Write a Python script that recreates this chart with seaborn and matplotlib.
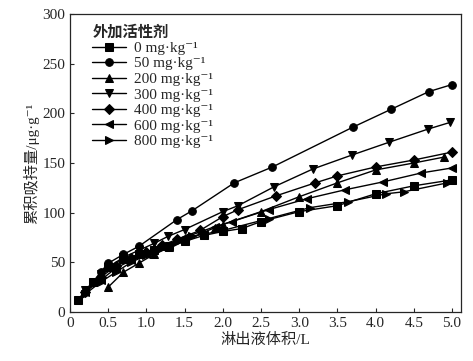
import numpy as np
import pandas as pd
import matplotlib
matplotlib.use('Agg')
import matplotlib.pyplot as plt
import seaborn as sns

sns.set_style('ticks')
plt.rcParams['font.family'] = ['Liberation Serif', 'Noto Sans CJK SC', 'DejaVu Serif']
plt.rcParams['axes.unicode_minus'] = False

# 各处理的数据 (淋出液体积 L, 累积吸持量 μg/g)
x_0 = [0.1, 0.3, 0.5, 0.7, 0.9, 1.1, 1.3, 1.5, 1.75, 2.0, 2.25, 2.5, 3.0, 3.5, 4.0, 4.5, 5.0]
y_0 = [12, 30, 45, 53, 58, 62, 66, 71, 77, 81, 84, 91, 101, 107, 119, 127, 133]

x_50 = [0.2, 0.3, 0.4, 0.5, 0.7, 0.9, 1.4, 1.6, 2.15, 2.65, 3.7, 4.2, 4.7, 5.0]
y_50 = [20, 30, 40, 49, 58, 66, 93, 102, 130, 146, 186, 204, 222, 229]

x_200 = [0.5, 0.7, 0.9, 1.1, 1.3, 1.5, 1.9, 2.0, 2.5, 3.0, 3.5, 4.0, 4.5, 4.9]
y_200 = [25, 40, 49, 58, 65, 72, 85, 88, 101, 116, 130, 143, 150, 156]

x_300 = [0.2, 0.4, 0.5, 0.7, 0.9, 1.1, 1.28, 1.5, 2.0, 2.2, 2.67, 3.18, 3.69, 4.18, 4.68, 4.98]
y_300 = [22, 38, 45, 55, 62, 69, 76, 83, 101, 107, 126, 144, 158, 171, 184, 191]

x_400 = [0.2, 0.4, 0.6, 0.8, 1.0, 1.2, 1.4, 1.7, 2.0, 2.2, 2.7, 3.21, 3.5, 4.0, 4.5, 5.0]
y_400 = [20, 35, 46, 54, 60, 67, 73, 82, 96, 103, 117, 130, 137, 146, 153, 161]

x_600 = [0.2, 0.4, 0.6, 0.8, 1.0, 1.2, 1.5, 1.9, 2.12, 2.6, 3.1, 3.6, 4.1, 4.6, 5.0]
y_600 = [20, 32, 44, 52, 58, 65, 75, 86, 91, 103, 114, 123, 131, 140, 145]

x_800 = [0.2, 0.4, 0.6, 0.8, 1.0, 1.2, 1.4, 1.6, 2.0, 2.6, 3.14, 3.64, 4.14, 4.37, 4.94]
y_800 = [18, 30, 40, 50, 57, 64, 70, 76, 82, 94, 105, 111, 119, 121, 130]

labels = ['0 mg·kg⁻¹', '50 mg·kg⁻¹', '200 mg·kg⁻¹', '300 mg·kg⁻¹',
          '400 mg·kg⁻¹', '600 mg·kg⁻¹', '800 mg·kg⁻¹']
series = [(x_0, y_0), (x_50, y_50), (x_200, y_200), (x_300, y_300),
          (x_400, y_400), (x_600, y_600), (x_800, y_800)]
markers = ['s', 'o', '^', 'v', 'D', '<', '>']

frames = []
for lab, (xs, ys) in zip(labels, series):
    frames.append(pd.DataFrame({'x': xs, 'y': ys, '外加活性剂': lab}))
df = pd.concat(frames, ignore_index=True)

fig = plt.figure(figsize=(4.73, 3.61), dpi=100)
ax = fig.add_axes([0.148, 0.136, 0.827, 0.825])

sns.lineplot(data=df, x='x', y='y', hue='外加活性剂', style='外加活性剂',
             hue_order=labels, style_order=labels,
             palette=['black'] * 7, markers=markers, dashes=False,
             markersize=5.5, markeredgecolor='black', linewidth=1.0,
             sort=False, estimator=None, ax=ax)

ax.set_xlim(0, 5.12)
ax.set_ylim(0, 300)
ax.set_xticks(np.arange(0, 5.01, 0.5))
ax.set_xticklabels(['0'] + [f'{v:.1f}' for v in np.arange(0.5, 5.01, 0.5)])
ax.set_yticks(np.arange(0, 301, 50))
ax.tick_params(direction='in', length=3, labelsize=11, width=0.8)
for s in ax.spines.values():
    s.set_linewidth(0.9)

ax.set_xlabel('淋出液体积/L', fontsize=11, labelpad=2)
ax.set_ylabel('累积吸持量/μg·g⁻¹', fontsize=11, labelpad=2)

leg = ax.legend(title='外加活性剂', loc='upper left', frameon=False,
                fontsize=11, title_fontsize=11, handlelength=2.2,
                borderaxespad=0.3, labelspacing=0.12, handletextpad=0.5,
                bbox_to_anchor=(0.03, 1.0))
leg.get_title().set_fontweight('bold')
leg._legend_box.align = 'left'

fig.savefig('out.png', dpi=100)
